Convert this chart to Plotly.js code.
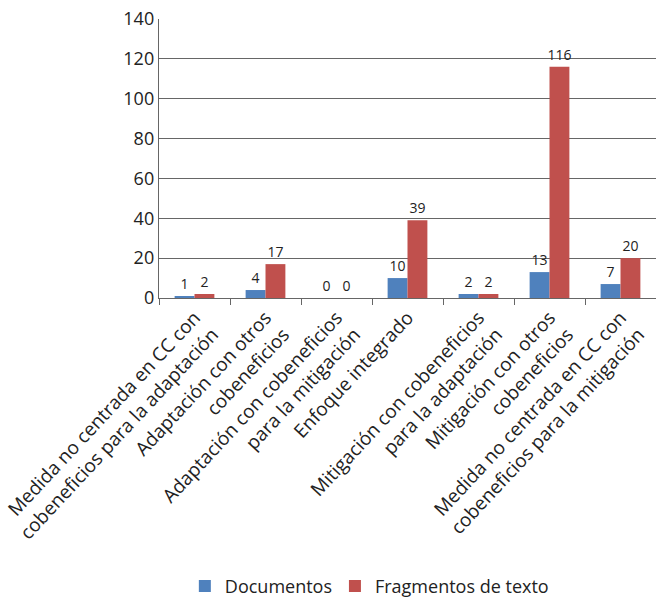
<!DOCTYPE html>
<html>
<head>
<meta charset="utf-8">
<script src="https://cdn.plot.ly/plotly-3.0.1.min.js"></script>
<style>html,body{margin:0;padding:0;background:#fff;}#chart{width:656px;height:597px;}</style>
</head>
<body>
<div id="chart"></div>
<script>
const categories = [
  "Medida no centrada en CC con<br>cobeneficios para la adaptación",
  "Adaptación con otros<br>cobeneficios",
  "Adaptación con cobeneficios<br>para la mitigación",
  "Enfoque integrado",
  "Mitigación con cobeneficios<br>para la adaptación",
  "Mitigación con otros<br>cobeneficios",
  "Medida no centrada en CC con<br>cobeneficios para la mitigación"
];
const documentos = [1, 4, 0, 10, 2, 13, 7];
const fragmentos = [2, 17, 0, 39, 2, 116, 20];
const yTicks = [0, 20, 40, 60, 80, 100, 120, 140];

const font = "Open Sans, Lato, sans-serif";
const traces = [
  {type: "bar", name: "Documentos", x: categories, y: documentos, legend: "legend",
   marker: {color: "#4f81bd"}, text: documentos.map(String), textposition: "outside",
   constraintext: "none", textfont: {size: 14, color: "#222"}, cliponaxis: false},
  {type: "bar", name: "Fragmentos de texto", x: categories, y: fragmentos, legend: "legend2",
   marker: {color: "#c0504d"}, text: fragmentos.map(String), textposition: "outside",
   constraintext: "none", textfont: {size: 14, color: "#222"}, cliponaxis: false}
];
const legendBase = {orientation: "h", xanchor: "left", yref: "container", y: 0.018, yanchor: "middle",
                    font: {size: 18, family: font}, bgcolor: "rgba(0,0,0,0)"};
const layout = {
  width: 656, height: 597,
  margin: {l: 159, r: 0, t: 19, b: 299},
  paper_bgcolor: "#fff", plot_bgcolor: "#fff",
  font: {family: font, color: "#222"},
  barmode: "group", bargap: 0.44, bargroupgap: 0,
  showlegend: true,
  legend: Object.assign({}, legendBase, {x: 0.052}),
  legend2: Object.assign({}, legendBase, {x: 0.354}),
  xaxis: {type: "category", tickangle: -47, tickfont: {size: 19, family: font},
          showline: true, linecolor: "#666", linewidth: 1.2,
          ticks: "outside", tickson: "boundaries", ticklen: 6, tickcolor: "#666",
          showgrid: false, automargin: false},
  yaxis: {range: [0, 140], tickvals: yTicks, ticktext: yTicks.map(String),
          tickfont: {size: 18, family: font}, showline: true, linecolor: "#666", linewidth: 1.2,
          showgrid: true, gridcolor: "#666", gridwidth: 1, zeroline: false,
          ticks: "", automargin: false}
};
Plotly.newPlot("chart", traces, layout, {displayModeBar: false, staticPlot: true});
</script>
</body>
</html>
